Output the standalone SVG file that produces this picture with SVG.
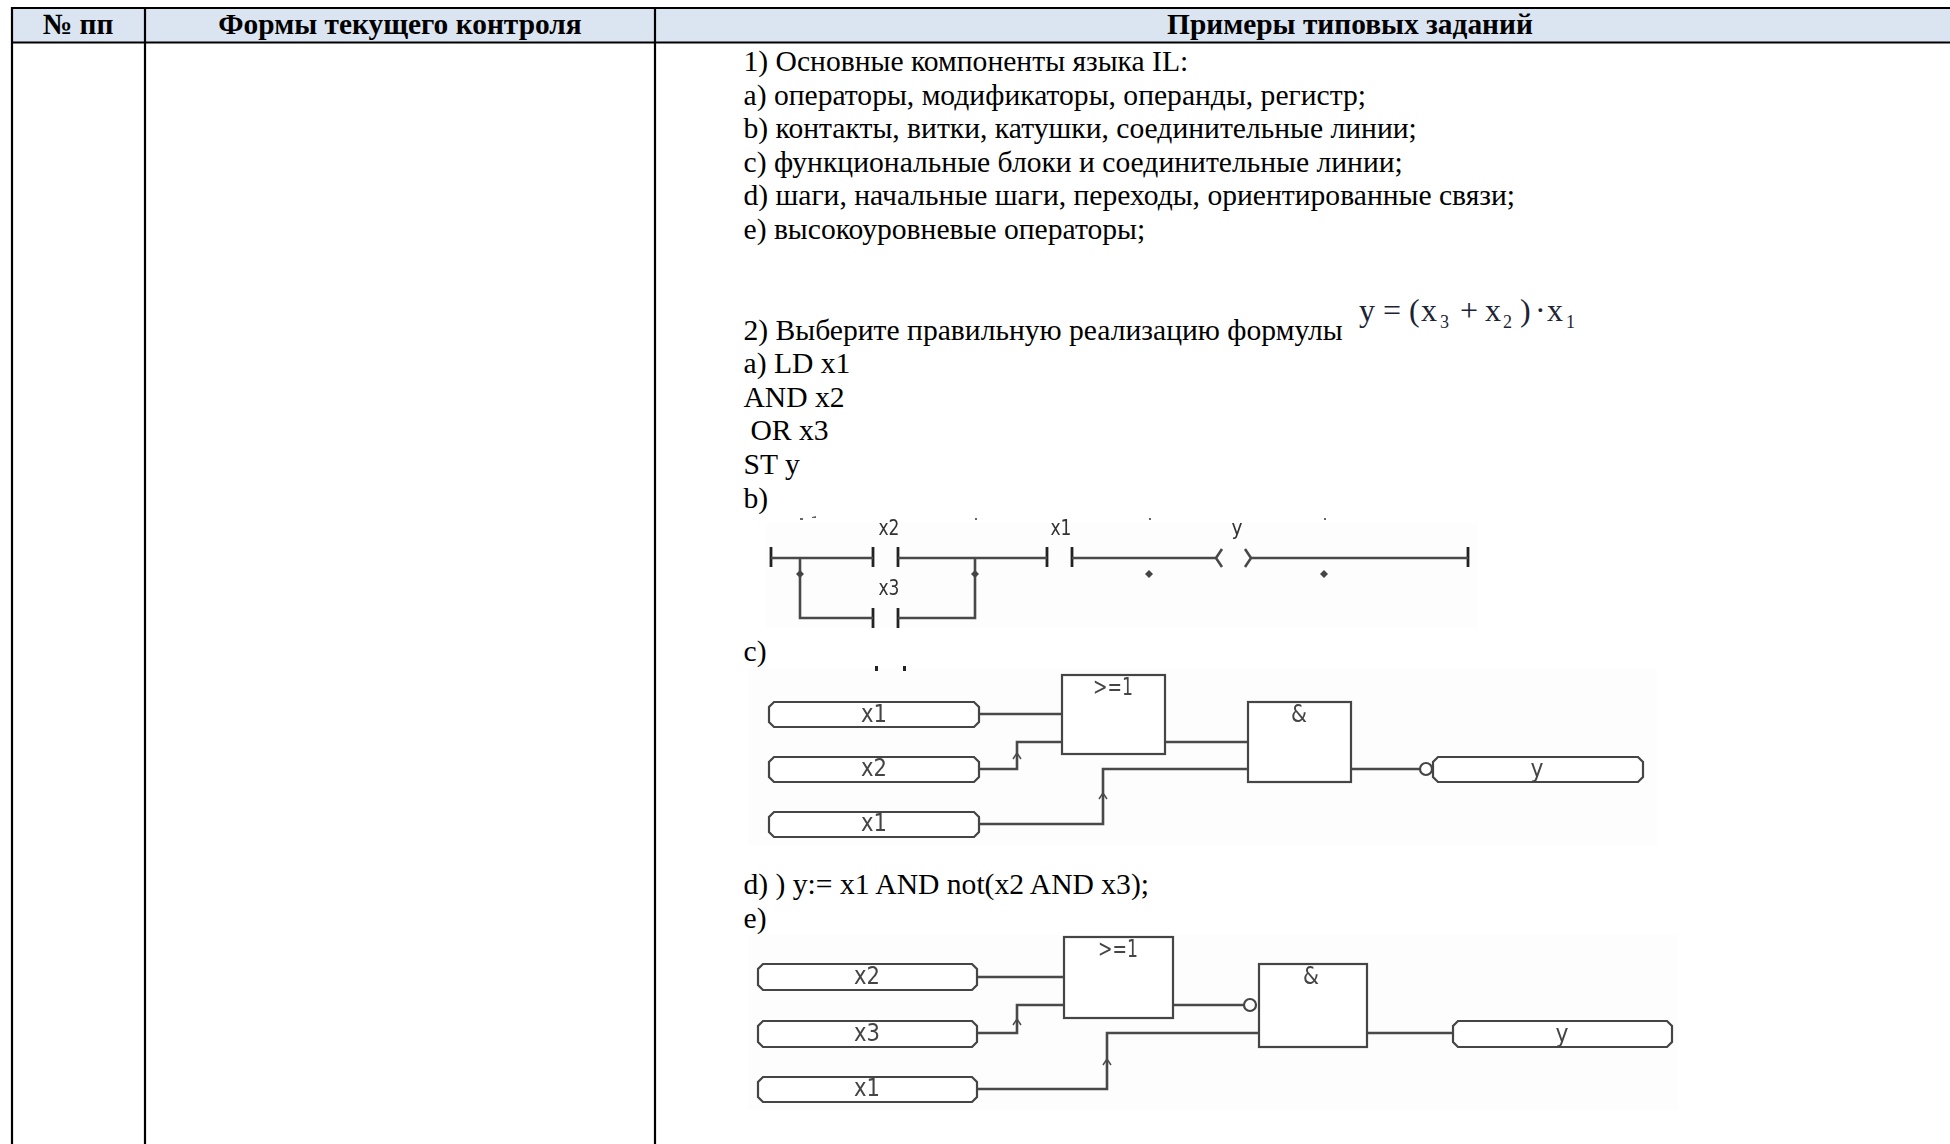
<svg xmlns="http://www.w3.org/2000/svg" width="1950" height="1144" viewBox="0 0 1950 1144">
<style>
.t{font-family:"Liberation Serif","Times New Roman",serif;font-size:29.6px;fill:#000}
.h{font-family:"Liberation Serif","Times New Roman",serif;font-size:29.4px;font-weight:bold;fill:#000;text-anchor:middle}
.g{fill:none;stroke:#000;stroke-width:2.2}
.n{fill:#fff;stroke:#444;stroke-width:2.200}
.w{fill:none;stroke:#4a4a4a;stroke-width:2.600}
.a{fill:none;stroke:#4a4a4a;stroke-width:1.500}
.l{font-family:"DejaVu Sans",sans-serif;font-size:24px;fill:#444;text-anchor:middle}
.s{font-family:"DejaVu Sans",sans-serif;font-size:21px;fill:#333;text-anchor:middle}
.m{font-family:"Liberation Serif","Times New Roman",serif;font-size:32px;fill:#1c2433}
.c{fill:none;stroke:#222;stroke-width:2.800}
.b{fill:#fdfdfd}
.soft{filter:url(#soft)}
</style>
<defs><filter id="soft" x="-5%" y="-5%" width="110%" height="110%"><feGaussianBlur stdDeviation="0.45"/></filter></defs>
<rect width="1950" height="1144" fill="#fff"/>
<g id="table">
<rect x="12" y="8" width="1938" height="35" fill="#dbe5f1"/>
<path class="g" d="M11 8H1950M11 42.500H1950M12 7V1144M145 7V1144M655 7V1144"/>
<text class="h" x="78" y="34">№ пп</text>
<text class="h" x="400" y="34">Формы текущего контроля</text>
<text class="h" x="1350" y="34">Примеры типовых заданий</text>
</g>
<g id="image-backgrounds">
<rect class="b" x="766" y="523" width="712" height="105"/>
<rect class="b" x="748" y="668" width="909" height="177"/>
<rect class="b" x="748" y="935" width="930" height="175"/>
</g>
<g id="text">
<text class="t" x="743.500" y="71">1) Основные компоненты языка IL:</text>
<text class="t" x="743.500" y="105">a) операторы, модификаторы, операнды, регистр;</text>
<text class="t" x="743.500" y="138">b) контакты, витки, катушки, соединительные линии;</text>
<text class="t" x="743.500" y="172">c) функциональные блоки и соединительные линии;</text>
<text class="t" x="743.500" y="205">d) шаги, начальные шаги, переходы, ориентированные связи;</text>
<text class="t" x="743.500" y="239">e) высокоуровневые операторы;</text>
<text class="t" x="743.500" y="340">2) Выберите правильную реализацию формулы</text>
<text class="m" y="321"><tspan x="1359 1376 1383 1403 1409 1421">y = (x</tspan><tspan x="1440" font-size="18" y="328">3</tspan><tspan y="321" x="1460 1478 1485">+ x</tspan><tspan x="1503" font-size="18" y="328">2</tspan><tspan y="321" x="1520 1530 1535 1541 1547">) · x</tspan><tspan x="1566" font-size="18" y="328">1</tspan></text>
<text class="t" x="743.500" y="373">a) LD x1</text>
<text class="t" x="743.500" y="407">AND x2</text>
<text class="t" x="750.500" y="440">OR x3</text>
<text class="t" x="743.500" y="474">ST y</text>
<text class="t" x="743.500" y="508">b)</text>
<text class="t" x="743.500" y="661">c)</text>
<text class="t" x="743.500" y="894">d) ) y:= x1 AND not(x2 AND x3);</text>
<text class="t" x="743.500" y="928">e)</text>
</g>
<g id="ladder" class="soft">
<path class="c" d="M771 547V567M873 547V567M898 547V567M1047 547V567M1072 547V567M1468 547V567M873 608V628M898 608V628"/>
<path class="w" d="M771 558H873M898 558H1047M1072 558H1216M1251 558H1468M800 558V618H873M975 558V618H898"/>
<path class="w" d="M1222 549L1216 558L1222 567M1245 549L1251 558L1245 567"/>
<path fill="#444" d="M800 570l4 4l-4 4l-4-4zM975 570l4 4l-4 4l-4-4zM1149 570l4 4l-4 4l-4-4zM1324 570l4 4l-4 4l-4-4z"/>
<path fill="#666" d="M800 518h3v2h-3zM812 517l4-1v2h-4zM975 518h2v2h-2zM1149 518h2v2h-2zM1324 518h2v2h-2z"/>
<text class="s" x="889" y="535" textLength="21" lengthAdjust="spacingAndGlyphs">x2</text>
<text class="s" x="1061" y="535" textLength="21" lengthAdjust="spacingAndGlyphs">x1</text>
<text class="s" x="1237" y="535" textLength="11" lengthAdjust="spacingAndGlyphs">y</text>
<text class="s" x="889" y="595" textLength="21" lengthAdjust="spacingAndGlyphs">x3</text>
</g>
<g id="fbd-c-connectors" class="soft">
<path fill="#222" d="M875 666h3v5h-3zM903 666h3v5h-3z"/>
<path class="w" d="M979 714H1062M979 769H1017V742H1062M1165 742H1248M979 824H1103V769H1248M1351 769H1420"/>
<path class="a" d="M1013 759L1017 753L1021 759M1099 799L1103 793L1107 799"/>
</g>
<g id="fbd-c-x1a" class="soft"><path class="n" d="M774 702H974L979 707V722L974 727H774L769 722V707Z"/><text class="l" x="874" y="722" textLength="26" lengthAdjust="spacingAndGlyphs">x1</text></g>
<g id="fbd-c-x2" class="soft"><path class="n" d="M774 757H974L979 762V777L974 782H774L769 777V762Z"/><text class="l" x="874" y="776" textLength="26" lengthAdjust="spacingAndGlyphs">x2</text></g>
<g id="fbd-c-x1b" class="soft"><path class="n" d="M774 812H974L979 817V832L974 837H774L769 832V817Z"/><text class="l" x="874" y="831" textLength="26" lengthAdjust="spacingAndGlyphs">x1</text></g>
<g id="fbd-c-or" class="soft"><rect class="n" x="1062" y="675" width="103" height="79"/><text class="l" x="1113" y="695" textLength="40" lengthAdjust="spacingAndGlyphs">&gt;=1</text></g>
<g id="fbd-c-and" class="soft"><rect class="n" x="1248" y="702" width="103" height="80"/><text class="l" x="1299" y="722" textLength="16" lengthAdjust="spacingAndGlyphs">&amp;</text></g>
<g id="fbd-c-not" class="soft"><ellipse class="n" cx="1426" cy="769" rx="6" ry="6"/></g>
<g id="fbd-c-y" class="soft"><path class="n" d="M1438 757H1638L1643 762V777L1638 782H1438L1433 777V762Z"/><text class="l" x="1537" y="777" textLength="13" lengthAdjust="spacingAndGlyphs">y</text></g>
<g id="fbd-e-connectors" class="soft">
<path class="w" d="M977 977H1064M977 1033H1017V1005H1064M1173 1005H1244M977 1089H1107V1033H1259M1367 1033H1453"/>
<path class="a" d="M1013 1025L1017 1019L1021 1025M1103 1065L1107 1059L1111 1065"/>
</g>
<g id="fbd-e-x2" class="soft"><path class="n" d="M763 964H972L977 969V985L972 990H763L758 985V969Z"/><text class="l" x="867" y="984" textLength="26" lengthAdjust="spacingAndGlyphs">x2</text></g>
<g id="fbd-e-x3" class="soft"><path class="n" d="M763 1021H972L977 1026V1042L972 1047H763L758 1042V1026Z"/><text class="l" x="867" y="1041" textLength="26" lengthAdjust="spacingAndGlyphs">x3</text></g>
<g id="fbd-e-x1" class="soft"><path class="n" d="M763 1077H972L977 1082V1097L972 1102H763L758 1097V1082Z"/><text class="l" x="867" y="1096" textLength="26" lengthAdjust="spacingAndGlyphs">x1</text></g>
<g id="fbd-e-or" class="soft"><rect class="n" x="1064" y="937" width="109" height="81"/><text class="l" x="1118" y="957" textLength="40" lengthAdjust="spacingAndGlyphs">&gt;=1</text></g>
<g id="fbd-e-not" class="soft"><ellipse class="n" cx="1250" cy="1005" rx="6" ry="6"/></g>
<g id="fbd-e-and" class="soft"><rect class="n" x="1259" y="964" width="108" height="83"/><text class="l" x="1311" y="984" textLength="16" lengthAdjust="spacingAndGlyphs">&amp;</text></g>
<g id="fbd-e-y" class="soft"><path class="n" d="M1458 1021H1667L1672 1026V1042L1667 1047H1458L1453 1042V1026Z"/><text class="l" x="1562" y="1042" textLength="13" lengthAdjust="spacingAndGlyphs">y</text></g>
</svg>
